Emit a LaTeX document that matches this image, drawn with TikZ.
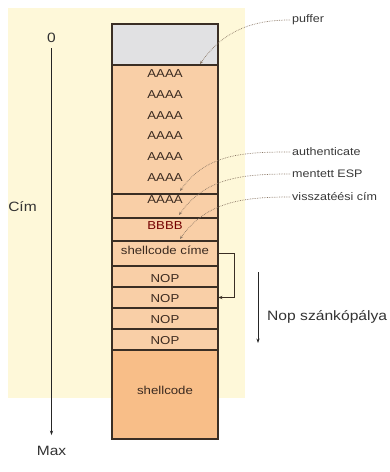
\documentclass[tikz,border=0pt]{standalone}
\usepackage{fontspec}
\setmainfont{Liberation Sans}[FakeStretch=1.15]
\usetikzlibrary{arrows.meta,calc}
\definecolor{cream}{HTML}{FEF8D9}
\definecolor{buffer}{HTML}{E1E1E3}
\definecolor{slot}{HTML}{F9CFA7}
\definecolor{payload}{HTML}{F8BE88}
\definecolor{edge}{HTML}{3A2E24}
\definecolor{ink}{HTML}{3B2A20}
\definecolor{hint}{HTML}{8A7664}

\begin{document}
\begin{tikzpicture}[x=1pt,y=-1pt,
  cell/.style={draw=edge,line width=1.3pt,fill=slot,minimum width=106pt,inner sep=0pt,outer sep=0pt,anchor=north},
  word/.style={font=\fontsize{11.5}{12}\selectfont,text=ink,inner sep=0pt},
  tag/.style={font=\fontsize{10.9}{12}\selectfont,text=black!78,anchor=west,inner sep=2pt},
  axislbl/.style={font=\fontsize{13.5}{15}\selectfont,text=black!80,inner sep=2pt},
  pointer/.style={densely dotted,hint,line width=.7pt,-{Stealth[length=3.5pt,width=2.8pt]}},
  >={Stealth[length=4.5pt,width=3.2pt]}]
\useasboundingbox (0,0) rectangle (390,472);
\fill[cream] (8,8) rectangle (245,398);
\node[cell,fill=buffer,minimum height=41pt] (puffer) at (165,24) {};
\node[cell,minimum height=129pt] (fill) at (puffer.south) {};
\node[cell,minimum height=24pt] (aaaa) at (fill.south) {};
\node[cell,minimum height=23pt] (bbbb) at (aaaa.south) {};
\node[cell,minimum height=25pt] (cime) at (bbbb.south) {};
\node[cell,minimum height=21pt] (nop1) at (cime.south) {};
\foreach \i [count=\j from 1] in {2,3,4}
  \node[cell,minimum height=21pt] (nop\i) at (nop\j.south) {};
\node[cell,fill=payload,minimum height=89pt] (shell) at (nop4.south) {};
\foreach \y [count=\k] in {73.5,94.3,115.1,135.9,156.7,177.5}
  \node[word] (a\k) at (165,\y) {AAAA};
\node[word] (a7) at (165,200) {AAAA};
\node[word,text=red!45!black] (b1) at (165,225.5) {BBBB};
\node[word] (addr) at (165,250) {shellcode címe};
\foreach \y [count=\k] in {279,299,320,341}
  \node[word] (n\k) at (165,\y) {NOP};
\node[word] (code) at (165,390.5) {shellcode};
\node[axislbl] (zero) at (51.5,37.5) {0};
\node[axislbl] (max) at (51.5,451) {Max};
\node[axislbl] (cim) at (22.5,207) {Cím};
\draw[->,line width=.9pt,black!85,shorten <=3.7pt,shorten >=9pt] (zero.south) -- (max.north);
\node[tag] (lbuf) at (290,20) {puffer};
\node[tag] (lauth) at (290,152) {authenticate};
\node[tag] (lesp) at (290,174) {mentett ESP};
\node[tag] (lret) at (290,197) {visszatéési cím};
\draw[pointer] (lbuf.west) to[out=180,in=55] ($(puffer.south east)+(-18,-1)$);
\draw[pointer] (lauth.west) to[out=180,in=55] ($(fill.south east)+(-38,-3)$);
\draw[pointer] (lesp.west) to[out=180,in=55] ($(aaaa.south east)+(-39,-3)$);
\draw[pointer] (lret.west) to[out=180,in=55] ($(bbbb.south east)+(-38,-2)$);
\draw[->,edge,line width=.9pt] (cime.east) -- ++(16,0) |- (nop2.east);
\coordinate (slidetop) at (258,272);
\coordinate (slidebot) at (258,343);
\draw[->,line width=1pt,black!85] (slidetop) -- (slidebot);
\node[font=\fontsize{13.6}{15}\selectfont,text=black!80,anchor=west,inner sep=0pt] (slide) at (267,317) {Nop szánkópálya};
\end{tikzpicture}
\end{document}
